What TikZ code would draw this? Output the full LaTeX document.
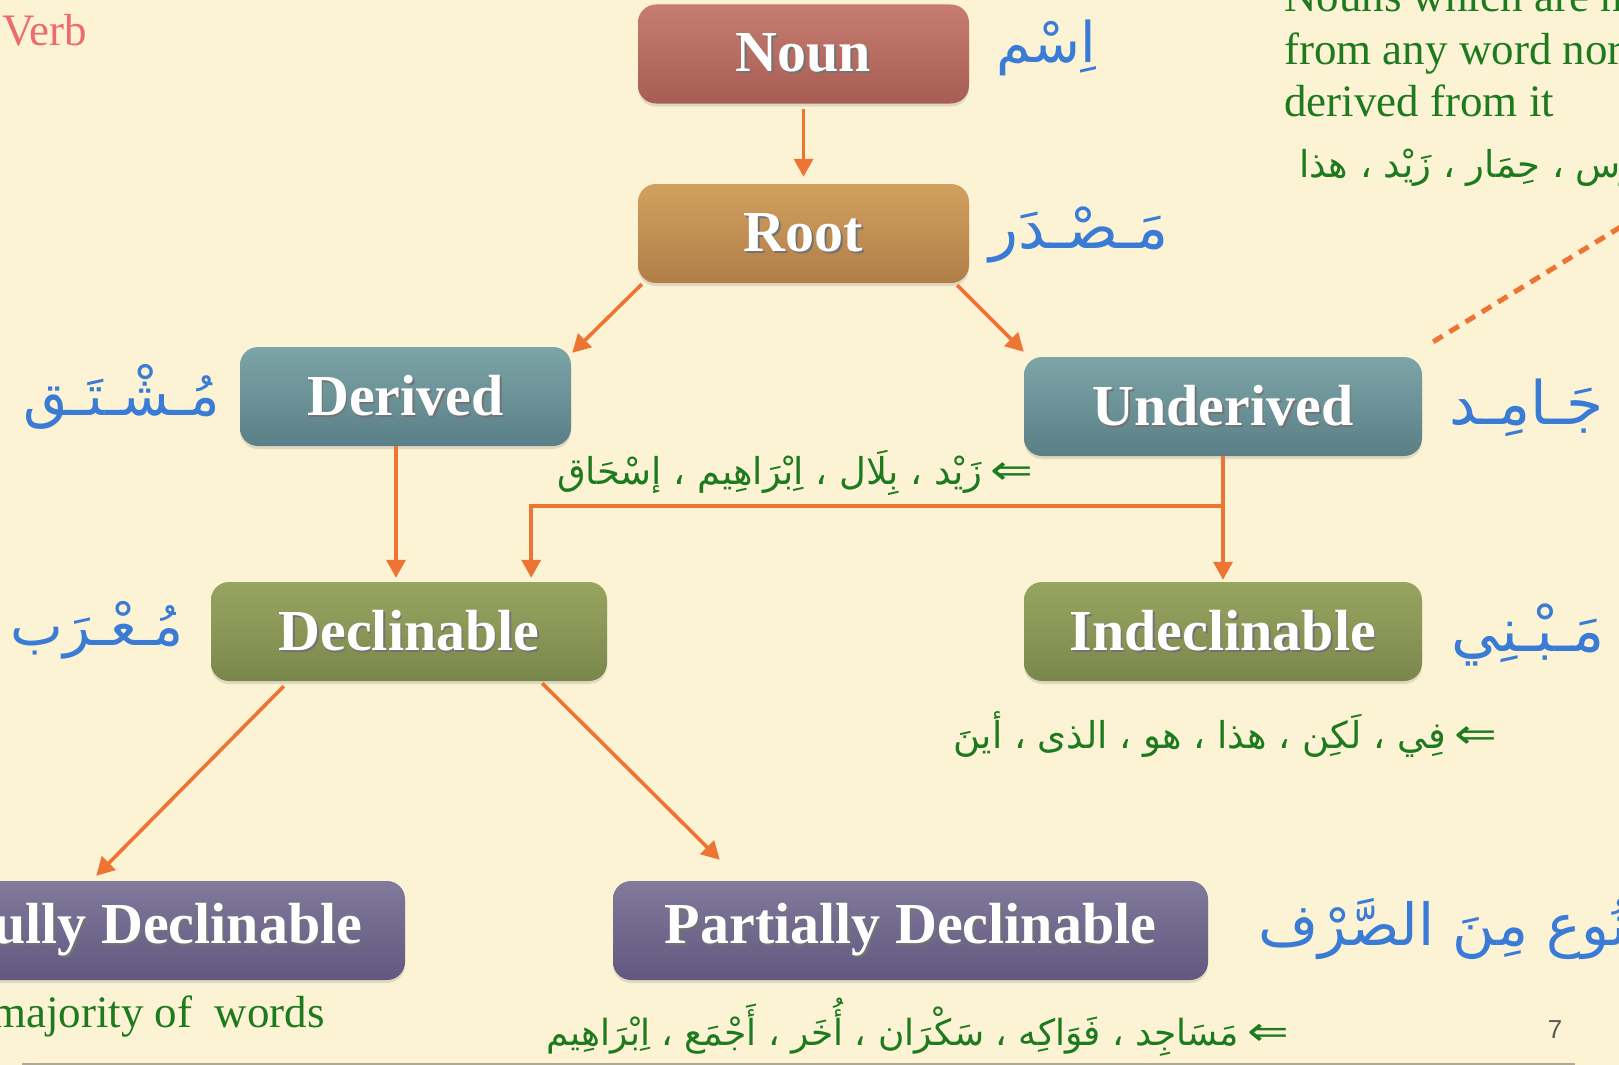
\documentclass[tikz,border=0pt]{standalone}
\usepackage{fontspec}
\usepackage{graphicx}
\setmainfont{Liberation Serif}
\newfontfamily\arabicfont[Script=Arabic]{DejaVu Sans}
\newfontfamily\symfont{DejaVu Sans}
\newfontfamily\numfont{Liberation Sans}
\TeXXeTstate=1
\usetikzlibrary{arrows.meta,calc,shadows}
\definecolor{bg}{HTML}{FCF3D5}
\definecolor{arrc}{HTML}{EE7434}
\definecolor{blu}{HTML}{3A7BD5}
\definecolor{grn}{HTML}{1E7A1E}
\definecolor{nounT}{HTML}{C67C70}
\definecolor{nounB}{HTML}{A85D54}
\definecolor{rootT}{HTML}{D2A05E}
\definecolor{rootB}{HTML}{B07E48}
\definecolor{tealT}{HTML}{7CA5A7}
\definecolor{tealB}{HTML}{5A7F87}
\definecolor{oliveT}{HTML}{98A560}
\definecolor{oliveB}{HTML}{7A874C}
\definecolor{purpT}{HTML}{817A9B}
\definecolor{purpB}{HTML}{625880}
\definecolor{verbc}{HTML}{EE6B6B}
\newcommand\shtxt[1]{\rlap{\kern1.5pt\raisebox{-1.8pt}{\textcolor{black!55}{#1}}}#1}
\newcommand\leftdbl{\hspace{8pt}{\symfont\scalebox{1.38}[1.12]{⇐}}}
\tikzset{
  box/.style={rounded corners=18pt, minimum height=99pt, inner sep=0pt, text=white,
    font=\fontsize{58}{60}\selectfont\bfseries,
    drop shadow={opacity=0.22, shadow xshift=0pt, shadow yshift=-3pt}},
  nounbox/.style={top color=nounT, bottom color=nounB},
  rootbox/.style={top color=rootT, bottom color=rootB},
  tealbox/.style={top color=tealT, bottom color=tealB},
  olivebox/.style={top color=oliveT, bottom color=oliveB},
  purpbox/.style={top color=purpT, bottom color=purpB},
  arw/.style={draw=arrc, line width=3.6pt, -{Triangle[length=18pt,width=19pt]}},
  dashline/.style={draw=arrc, line width=5pt, dash pattern=on 11pt off 8pt},
  bluelabel/.style={text=blu, inner sep=0pt, font=\arabicfont\fontsize{60}{70}\selectfont},
  grnar/.style={text=grn, inner sep=0pt, font=\arabicfont\fontsize{37}{45}\selectfont},
  grnen/.style={text=grn, inner sep=0pt, font=\fontsize{45}{52}\selectfont},
}
\begin{document}
\begin{tikzpicture}[x=1pt,y=-1pt]
\useasboundingbox (0,0) rectangle (1619,1065);
\fill[bg] (0,0) rectangle (1619,1065);
\clip (0,0) rectangle (1619,1065);

% boxes
\node[box, nounbox, minimum width=331pt] (noun) at (803.5,54) {\shtxt{Noun}};
\node[box, rootbox, minimum width=331pt] (root) at (803.5,233.5) {\shtxt{Root}};
\node[box, tealbox, minimum width=331pt] (derived) at (405.5,396.5) {\shtxt{Derived}};
\node[box, tealbox, minimum width=398pt] (underived) at (1223,406.5) {\shtxt{Underived}};
\node[box, olivebox, minimum width=396pt] (declinable) at (409,631.5) {\shtxt{Declinable}};
\node[box, olivebox, minimum width=398pt] (indeclinable) at (1223,631.5) {\shtxt{Indeclinable}};
\node[box, purpbox, minimum width=490pt] (fully) at (160,930.5) {\shtxt{Fully Declinable}};
\node[box, purpbox, minimum width=595pt] (partially) at (910.5,930.5) {\shtxt{Partially Declinable}};

% connectors
\draw[arw, shorten <=5pt, shorten >=7pt] (noun.south) -- (root.north);
\draw[arw] ($(root.south west)+(4,1)$) -- ($(derived.north east)+(1,6)$);
\draw[arw] ($(root.south east)+(-12,2)$) -- ($(underived.north west)+(0,-5)$);
\draw[arw] ($(derived.south)+(-9.5,0)$) -- ($(declinable.north)+(-13,-4)$);
\draw[arw] (underived.south) -- ($(indeclinable.north)+(0,-2)$);
\coordinate (br) at ($(underived.south)+(0,50)$);
\draw[arw] (br) -| ($(declinable.north east)+(-76,-4)$);
\draw[arw] ($(declinable.south west)+(73,5)$) -- ($(fully.north east)+(-309,-5)$);
\draw[arw] ($(declinable.south east)+(-65,2)$) -- ($(partially.north west)+(107,-21)$);
\coordinate (dashend) at (1712,171);
\draw[dashline] ($(underived.north east)+(11,-15)$) -- (dashend);

% blue arabic labels
\node[bluelabel, anchor=west, font=\arabicfont\fontsize{56}{66}\selectfont] (lism) at (996,48) {\beginR اِسْم\endR};
\node[bluelabel, anchor=west] (lmasdar) at (989,235) {\beginR مَـصْـدَر\endR};
\node[bluelabel, anchor=east, font=\arabicfont\fontsize{57}{66}\selectfont] (lmushtaq) at (220,397) {\beginR مُـشْـتَـق\endR};
\node[bluelabel, anchor=west] (ljamid) at (1449,408) {\beginR جَـامِـد\endR};
\node[bluelabel, anchor=east, font=\arabicfont\fontsize{56}{66}\selectfont] (lmurab) at (184,630) {\beginR مُـعْـرَب\endR};
\node[bluelabel, anchor=west] (lmabni) at (1451,635) {\beginR مَـبْـنِي\endR};
\node[bluelabel, anchor=west, font=\arabicfont\fontsize{58}{68}\selectfont] (lmamnu) at (1258,929) {\beginR مَمْـــنُوع مِنَ الصَّرْف\endR};

% green arabic examples
\node[grnar, anchor=west] (extop) at (1299,168) {\beginR فَرَس ، حِمَار ، زَيْد ، هذا\endR};
\node[grnar, anchor=east] (exund) at (1033,473) {\beginR زَيْد ، بِلَال ، اِبْرَاهِيم ، إسْحَاق\endR\leftdbl};
\node[grnar, anchor=east] (exind) at (1497,735) {\beginR فِي ، لَكِن ، هذا ، هو ، الذى ، أينَ\endR\leftdbl};
\node[grnar, anchor=east, font=\arabicfont\fontsize{36}{44}\selectfont] (expart) at (1289,1027) {\beginR مَسَاجِد ، فَوَاكِه ، سَكْرَان ، أُخَر ، أَجْمَع ، اِبْرَاهِيم\endR\leftdbl};

% english texts
\node[grnen, anchor=base west] (def1) at (1284,12) {Nouns which are not};
\node[grnen, anchor=base west] (def2) at (1284,64) {from any word nor};
\node[grnen, anchor=base west] (def3) at (1284,116) {derived from it};
\node[grnen, anchor=base east] (major) at (325,1027) {majority of\ \ words};
\node[text=verbc, inner sep=0pt, anchor=base west, font=\fontsize{45}{50}\selectfont] (verb) at (2,46) {Verb};
\node[text=black!65, inner sep=0pt, font=\numfont\fontsize{26}{30}\selectfont] (pnum) at (1555,1030) {7};

% footer line
\coordinate (fl) at (22,1063.5);
\coordinate (fr) at (1575,1063.5);
\draw[draw=black!30!bg, line width=2pt] (fl) -- (fr);
\end{tikzpicture}
\end{document}
